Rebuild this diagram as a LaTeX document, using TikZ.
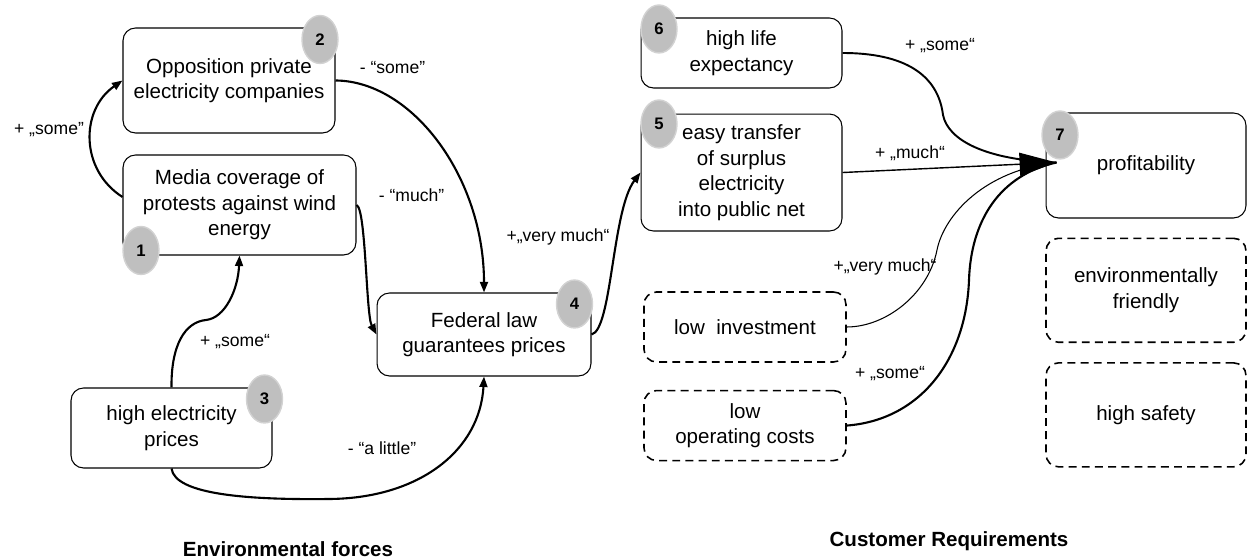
\documentclass[tikz,border=0pt]{standalone}
\usepackage{fontspec}
\setmainfont{Liberation Sans}
\usepackage{tikz}
\usetikzlibrary{positioning,shapes.geometric,arrows.meta}

\tikzset{
	factor/.style={draw,line width=0.6pt,rounded corners=0.25cm,align=center,inner sep=2pt,
		font=\fontsize{11.7}{14.5}\selectfont},
	need/.style={factor,line width=0.9pt,dash pattern=on 4.5pt off 3pt},
	badge/.style={ellipse,fill=gray!50,draw=gray!35,line width=0.8pt,inner sep=0pt,
		minimum width=0.72cm,minimum height=0.96cm,font=\bfseries\fontsize{9.5}{11}\selectfont},
	link/.style={line width=1.2pt,-{Triangle[length=6pt,width=4.5pt]}},
	thinlink/.style={line width=0.6pt},
	lbl/.style={inner sep=0pt,font=\fontsize{10}{12}\selectfont},
	headline/.style={inner sep=0pt,font=\bfseries\fontsize{11.7}{14}\selectfont}
}

\begin{document}
\begin{tikzpicture}[x=0.02cm,y=0.02cm]
	\useasboundingbox (0,0) rectangle (1253,560);
	% environmental forces
	\node[factor,minimum width=4.24cm,minimum height=2.1cm] (oppos) at (229,479.5) {Opposition private\\electricity companies};
	\node[factor,minimum width=4.66cm,minimum height=2cm] (media) at (239.5,355) {Media coverage of\\protests against wind\\energy};
	\node[factor,minimum width=4.02cm,minimum height=1.6cm] (highprice) at (171.5,132) {high electricity\\prices};
	\node[factor,minimum width=4.28cm,minimum height=1.66cm] (fedlaw) at (484,225.5) {Federal law\\guarantees prices};
	% customer requirements
	\node[factor,minimum width=4.02cm,minimum height=1.4cm] (lifeexp) at (741.5,507) {high life\\expectancy};
	\node[factor,minimum width=4.02cm,minimum height=2.34cm,below=0.5cm of lifeexp] (transfer) {easy transfer\\of surplus\\electricity\\into public net};
	\node[need,minimum width=4.04cm,minimum height=1.4cm] (lowinv) at (745,233) {low~ investment};
	\node[need,minimum width=4.04cm,minimum height=1.4cm,below=0.54cm of lowinv] (lowcost) {low\\operating costs};
	\node[factor,minimum width=4cm,minimum height=2.1cm] (profit) at (1146,394.5) {profitability};
	\node[need,minimum width=4cm,minimum height=2.08cm,below=0.38cm of profit] (envfr) {environmentally\\friendly};
	\node[need,minimum width=4cm,minimum height=2.08cm,below=0.38cm of envfr] (safety) {high safety};

	\node[badge] (b1) at (141,309.5) {1};
	\node[badge] (b2) at (320,520.5) {2};
	\node[badge] (b3) at (264.5,161) {3};
	\node[badge] (b4) at (574.5,256) {4};
	\node[badge] (b5) at (659,436) {5};
	\node[badge] (b6) at (659,531) {6};
	\node[badge] (b7) at (1060,425) {7};

	% left links
	\draw[link] ([yshift=0.16cm]media.west) .. controls (80,390) and (80,450) .. (oppos.west);
	\draw[link] (oppos.east) .. controls (412,479) and (484,383) .. (fedlaw.north);
	\draw[link] (media.east) .. controls (366,352) and (366,245) .. (fedlaw.west);
	\draw[link] (highprice.north) .. controls (171,215) and (185,238) .. (206,240) .. controls (225,242) and (238,270) .. (media.south);
	\draw[link] (highprice.south) .. controls (175,65) and (250,60) .. (330,61) .. controls (420,62) and (480,110) .. (fedlaw.south);
	\draw[link] (fedlaw.east) .. controls (612,230) and (612,350) .. (transfer.west);

	% right links, all ending in one big tip
	\coordinate (hub) at ([shift={(11,3)}]profit.west);
	\draw[line width=1.1pt] (lifeexp.east) .. controls (905,507) and (938,485) .. (943,445) .. controls (948,420) and (985,400) .. (hub);
	\draw[thinlink] (lowinv.east) .. controls (885,233) and (928,265) .. (937,310) .. controls (944,345) and (985,390) .. (hub);
	\draw[line width=1.2pt] (lowcost.east) .. controls (920,140) and (966,200) .. (969,280) .. controls (971,340) and (1000,385) .. (hub);
	\draw[line width=0.8pt,-{Triangle[length=21pt,width=13pt]}] (transfer.east) -- (hub);

	% labels
	\node[lbl] (l12) at (49,430) {+ „some"};
	\node[lbl] (l24) at (392.5,492) {- “some”};
	\node[lbl] (l14) at (411.5,365) {- “much”};
	\node[lbl] (l31) at (235,218) {+ „some“};
	\node[lbl] (l34) at (382,112) {- “a little”};
	\node[lbl] (l45) at (558,323) {+„very much“};
	\node[lbl] (l67) at (940,514) {+ „some“};
	\node[lbl] (l57) at (910,407) {+ „much“};
	\node[lbl] (linv) at (885,293) {+„very much“};
	\node[lbl] (lcost) at (890,186) {+ „some“};

	\node[headline] (envtitle) at (288,10.5) {Environmental forces};
	\node[headline] (custtitle) at (949,19) {Customer Requirements};
\end{tikzpicture}
\end{document}
